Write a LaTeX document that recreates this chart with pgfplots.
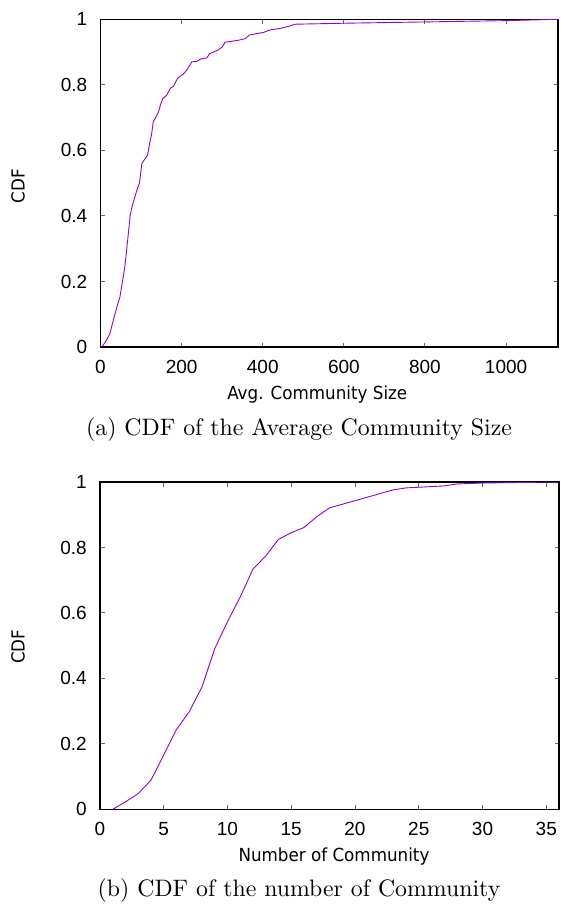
\documentclass[border=0pt]{standalone}
\usepackage{fontspec}
\usepackage{pgfplots}
\pgfplotsset{compat=1.18}
\setmainfont{Latin Modern Roman}
\newfontfamily\capfont{lmroman10-regular}[Extension=.otf]
\newfontfamily\tickfont{Liberation Sans}
\newfontfamily\labelfont[FakeStretch=0.93]{DejaVu Sans}
\definecolor{gpviolet}{RGB}{148,0,211}

\pgfplotsset{
  cdfstyle/.style={
    scale only axis,
    anchor=south west,
    ymin=0, ymax=1,
    ytick={0,0.2,...,1},
    tick align=inside,
    xtick pos=both, ytick pos=both,
    major tick length=4.5pt,
    every tick/.style={black!60, line width=1pt},
    axis line style={line width=1.2pt, black},
    /pgf/number format/assume math mode=true,
    /pgf/number format/1000 sep={},
    ticklabel style={font=\tickfont\fontsize{19}{23}\selectfont, inner sep=0pt},
    yticklabel style={xshift=-13pt},
    xticklabel style={yshift=-13pt},
    xlabel style={font=\labelfont\fontsize{18}{22}\selectfont,
      at={(axis description cs:0.5,0)}, anchor=base, inner sep=0pt},
    ylabel style={font=\labelfont\fontsize{18}{22}\selectfont,
      at={(axis description cs:0,0.5)}, anchor=center, inner sep=0pt},
  },
}

\begin{document}
\begin{tikzpicture}
\useasboundingbox (0pt,-904pt) rectangle (561pt,0pt);

% (a) average community size
\begin{axis}[cdfstyle,
  at={(100.5pt,-347pt)}, width=457.5pt, height=327.7pt,
  xmin=0, xmax=1128, xtick={0,200,...,1000},
  xlabel={Avg. Community Size},
  xlabel style={yshift=-52pt, xshift=-12pt},
  ylabel={CDF},
  ylabel style={yshift=82.5pt, xshift=-3pt},
]
\addplot[gpviolet, line width=0.9pt] coordinates {
(3,0.0) (12,0.015) (23,0.04) (31.6,0.082) (40,0.12) (48,0.153) (56,0.214)
(60,0.245) (64,0.29) (68.7,0.347) (73,0.40) (78,0.43) (83,0.45) (90,0.48)
(96,0.50) (99,0.53) (102,0.56) (110,0.575) (116,0.585) (121,0.62) (126,0.65)
(130,0.687) (136,0.70) (143,0.717) (148,0.74) (153.5,0.758) (163,0.768)
(172,0.789) (180,0.796) (190,0.82) (204,0.833) (213,0.845) (225,0.87)
(239,0.872) (247,0.879) (262,0.882) (269,0.895) (288,0.905) (300,0.915)
(307,0.93) (340,0.936) (357,0.941) (367,0.952) (402,0.96) (419,0.968)
(443,0.972) (468,0.98) (480,0.985) (600,0.988) (801,0.992) (1003,0.996)
(1128,1.0)
};
\end{axis}
\node[anchor=base, font=\capfont\fontsize{23.8}{28}\selectfont, inner sep=0pt]
  at (299pt,-435pt) {(a) CDF of the Average Community Size};

% (b) number of communities
\begin{axis}[cdfstyle,
  at={(100pt,-809.3pt)}, width=459pt, height=327.3pt,
  xmin=0, xmax=36, xtick={0,5,...,35},
  xlabel={Number of Community},
  xlabel style={yshift=-52pt, xshift=4.5pt},
  ylabel={CDF},
  ylabel style={yshift=82pt, xshift=-1pt},
]
\addplot[gpviolet, line width=0.9pt] coordinates {
(1,0) (2,0.023) (3,0.048) (4,0.089) (5,0.166) (6,0.244) (7,0.298) (8,0.374)
(9,0.491) (10,0.573) (11,0.649) (12,0.734) (13,0.774) (14,0.825) (15,0.845)
(16,0.861) (17,0.894) (18,0.921) (23,0.976) (24,0.982) (27,0.988) (28,0.994)
(30,0.997) (36,1.0)
};
\end{axis}
\node[anchor=base, font=\capfont\fontsize{23.8}{28}\selectfont, inner sep=0pt]
  at (299pt,-896.7pt) {(b) CDF of the number of Community};
\end{tikzpicture}
\end{document}
